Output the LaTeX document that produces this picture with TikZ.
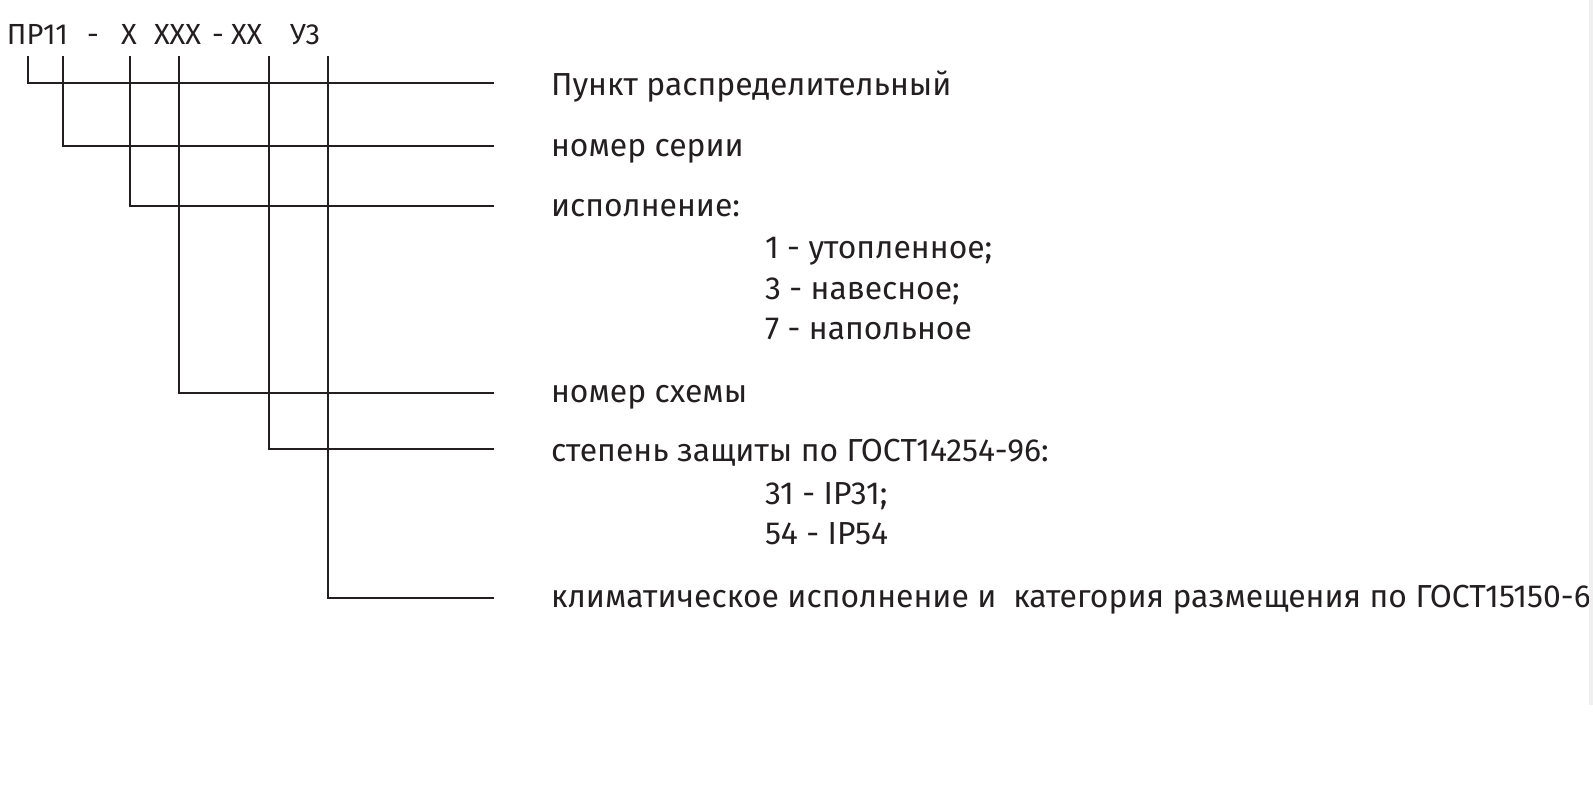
\documentclass[tikz,border=0pt]{standalone}
\usepackage{fontspec}
\setmainfont{Fira Sans}
\definecolor{ink}{HTML}{231F20}
\definecolor{strip}{HTML}{F0F0F0}
\tikzset{
  lbl/.style={anchor=base west, inner sep=0pt, outer sep=0pt, text=ink, font=\fontsize{23.9pt}{26pt}\selectfont},
  ttl/.style={anchor=base west, inner sep=0pt, outer sep=0pt, text=ink, font=\fontsize{21.8pt}{24pt}\selectfont},
  lead/.style={draw=ink, line width=1.3pt, line cap=rect}
}
\begin{document}
\begin{tikzpicture}[x=0.75pt,y=-0.75pt]
\useasboundingbox (0,0) rectangle (1593,798);
\clip (0,0) rectangle (1593,798);
% title
\node[ttl] (t1) at (7,45) {ПР11};
\node[ttl] (t1d) at (87,45) {-};
\node[ttl] (t2) at (121,45) {X};
\node[ttl] (t3) at (154,45) {XXX};
\node[ttl] (t3d) at (212,45) {-};
\node[ttl] (t3b) at (231,45) {XX};
\node[ttl] (t4) at (290,45) {У3};
% tops of the leads
\coordinate (v1) at (28,57);
\coordinate (v2) at (63,57);
\coordinate (v3) at (130,57);
\coordinate (v4) at (179,57);
\coordinate (v5) at (269,57);
\coordinate (v6) at (328,57);
% ends of the leads
\coordinate (e1) at (493,83);
\coordinate (e2) at (493,146);
\coordinate (e3) at (493,206);
\coordinate (e4) at (493,393);
\coordinate (e5) at (493,449);
\coordinate (e6) at (493,598);
\draw[lead] (v1) |- (e1);
\draw[lead] (v2) |- (e2);
\draw[lead] (v3) |- (e3);
\draw[lead] (v4) |- (e4);
\draw[lead] (v5) |- (e5);
\draw[lead] (v6) |- (e6);
% labels
\node[lbl] (l1) at (551,96) {Пункт распределительный};
\node[lbl] (l2) at (551,157) {номер серии};
\node[lbl] (l3) at (551,217) {исполнение:};
\node[lbl] (l3a) at (765,259) {1 - утопленное;};
\node[lbl] (l3b) at (765,300) {3 - навесное;};
\node[lbl] (l3c) at (765,340) {7 - напольное};
\node[lbl] (l4) at (551,403) {номер схемы};
\node[lbl] (l5) at (551,462) {степень защиты по ГОСТ14254-96:};
\node[lbl] (l5a) at (765,505) {31 - IP31;};
\node[lbl] (l5b) at (765,545) {54 - IP54};
\node[lbl] (l6) at (551,607) {климатическое исполнение и\ \ категория размещения по ГОСТ15150-69};
% right edge strip
\fill[strip] (1589,0) rectangle (1593,705);
\end{tikzpicture}
\end{document}
